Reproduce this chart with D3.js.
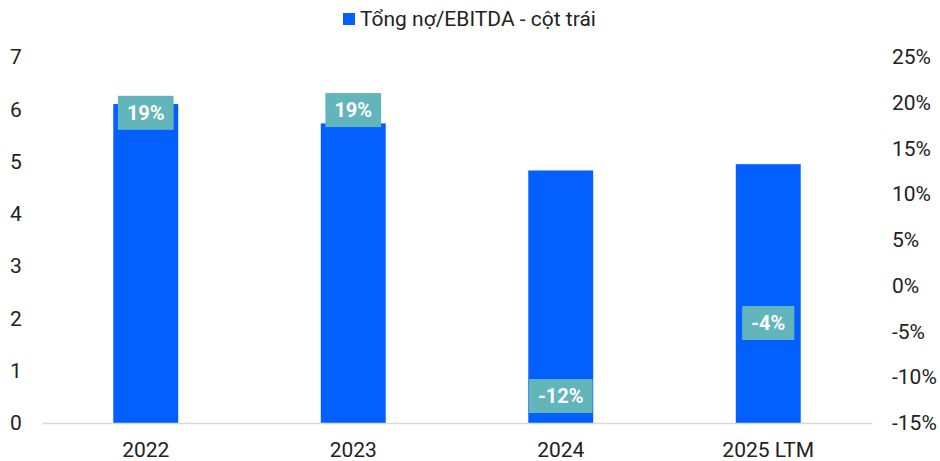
<!DOCTYPE html>
<html>
<head>
<meta charset="utf-8">
<script src="https://cdn.jsdelivr.net/npm/d3@7"></script>
<style>
  body { margin: 0; background: #fff; }
  text { font-family: Roboto, "Noto Sans", sans-serif; }
</style>
</head>
<body>
<div id="chart"></div>
<script>
// data
const categories = ["2022", "2023", "2024", "2025 LTM"];
const debtEbitda = [6.1, 5.73, 4.83, 4.95];
const growthPct = [18.9, 19.2, -12.05, -4.07];
const growthLabels = ["19%", "19%", "-12%", "-4%"];
const leftTicks = [0, 1, 2, 3, 4, 5, 6, 7];
const rightTicks = [-15, -10, -5, 0, 5, 10, 15, 20, 25];

const width = 940, height = 461;
const margin = { top: 57, right: 68, bottom: 38, left: 42 };

const svg = d3.select("#chart").append("svg")
    .attr("width", width)
    .attr("height", height);

// scales
const x = d3.scaleBand()
    .domain(categories)
    .range([margin.left, width - margin.right])
    .paddingInner(0.687)
    .paddingOuter(0.3435);

const yLeft = d3.scaleLinear()
    .domain([0, 7])
    .range([height - margin.bottom, margin.top]);

const yRight = d3.scaleLinear()
    .domain([-15, 25])
    .range([height - margin.bottom, margin.top]);

// legend
const legend = svg.append("g").attr("transform", "translate(343,13)");
legend.append("rect")
    .attr("width", 12).attr("height", 12)
    .attr("fill", "#0360FF");
legend.append("text")
    .attr("x", 17).attr("y", 13)
    .attr("font-size", 21)
    .attr("fill", "#222")
    .text("Tổng nợ/EBITDA - cột trái");

// left axis
svg.append("g")
    .attr("transform", `translate(${margin.left - 20},0)`)
    .call(d3.axisLeft(yLeft).tickValues(leftTicks).tickSize(0).tickPadding(0)
        .tickFormat(d3.format("d")))
    .call(g => g.select(".domain").remove())
    .selectAll("text")
    .attr("font-size", 21)
    .attr("fill", "#222")
    .attr("text-anchor", "middle")
    .attr("x", -6);

// right axis
svg.append("g")
    .attr("transform", `translate(892,0)`)
    .call(d3.axisRight(yRight).tickValues(rightTicks).tickSize(0).tickPadding(0)
        .tickFormat(d => d + "%"))
    .call(g => g.select(".domain").remove())
    .selectAll("text")
    .attr("font-size", 21)
    .attr("fill", "#222");

// bars
svg.selectAll(".bar")
    .data(categories)
    .enter().append("rect")
    .attr("class", "bar")
    .attr("x", d => x(d))
    .attr("width", x.bandwidth())
    .attr("y", (d, i) => yLeft(debtEbitda[i]))
    .attr("height", (d, i) => yLeft(0) - yLeft(debtEbitda[i]))
    .attr("fill", "#0360FF");

// x axis
svg.append("g")
    .attr("transform", `translate(0,${yLeft(0)})`)
    .call(d3.axisBottom(x).tickSize(0).tickPadding(19))
    .call(g => g.select(".domain").attr("stroke", "#d9d9d9").attr("stroke-width", 1.5))
    .selectAll("text")
    .attr("font-size", 21)
    .attr("fill", "#222");

// growth labels on right scale
const labels = svg.selectAll(".lbl")
    .data(categories)
    .enter().append("g")
    .attr("class", "lbl")
    .attr("transform", (d, i) => `translate(${x(d) + x.bandwidth() / 2},${yRight(growthPct[i])})`);

labels.each(function(d, i) {
    const g = d3.select(this);
    const t = g.append("text")
        .attr("text-anchor", "middle")
        .attr("dy", "0.36em")
        .attr("font-size", 20)
        .attr("font-weight", "bold")
        .attr("font-family", "'Open Sans', sans-serif")
        .attr("fill", "#fff")
        .text(growthLabels[i]);
    const w = t.node().getComputedTextLength() + 18;
    g.insert("rect", "text")
        .attr("x", -w / 2)
        .attr("y", -17)
        .attr("width", w)
        .attr("height", 34)
        .attr("fill", "#62B5BB");
});
</script>
</body>
</html>
